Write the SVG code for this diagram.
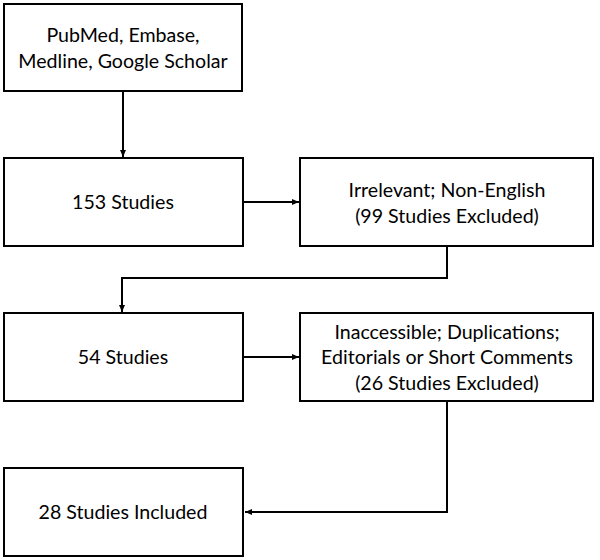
<svg xmlns="http://www.w3.org/2000/svg" width="600" height="560" viewBox="0 0 600 560">
<defs>
<marker id="ah" markerWidth="8" markerHeight="8" refX="7" refY="4" orient="auto" markerUnits="userSpaceOnUse">
<path d="M0,1 L7,4 L0,7 Z" fill="#000"/>
</marker>
<style>
.box{fill:#fff;stroke:#000;stroke-width:2}
.t{font-family:Lato,"Open Sans","Liberation Sans",sans-serif;font-size:19.6px;fill:#000;text-anchor:middle}
.c{fill:none;stroke:#000;stroke-width:2}
</style>
</defs>
<rect width="600" height="560" fill="#fff"/>
<g id="connectors">
<path class="c" d="M123,91 V157" marker-end="url(#ah)"/>
<path class="c" d="M243,202 H299" marker-end="url(#ah)"/>
<path class="c" d="M447,246 V278 H122 V312" marker-end="url(#ah)"/>
<path class="c" d="M243,357 H299" marker-end="url(#ah)"/>
<path class="c" d="M447,401 V512 H245" marker-end="url(#ah)"/>
</g>
<g id="n1">
<rect class="box" x="4" y="4" width="238" height="87"/>
<text class="t" x="123" y="42">PubMed, Embase,</text>
<text class="t" x="123" y="68">Medline, Google Scholar</text>
</g>
<g id="n2">
<rect class="box" x="4" y="158" width="239" height="88"/>
<text class="t" x="123" y="209">153 Studies</text>
</g>
<g id="n3">
<rect class="box" x="300" y="158" width="293" height="88"/>
<text class="t" x="447" y="197">Irrelevant; Non-English</text>
<text class="t" x="447" y="223">(99 Studies Excluded)</text>
</g>
<g id="n4">
<rect class="box" x="4" y="313" width="239" height="88"/>
<text class="t" x="123" y="364">54 Studies</text>
</g>
<g id="n5">
<rect class="box" x="300" y="313" width="293" height="88"/>
<text class="t" x="447" y="339">Inaccessible; Duplications;</text>
<text class="t" x="447" y="364">Editorials or Short Comments</text>
<text class="t" x="447" y="390">(26 Studies Excluded)</text>
</g>
<g id="n6">
<rect class="box" x="4" y="468" width="239" height="88"/>
<text class="t" x="123" y="519">28 Studies Included</text>
</g>
</svg>
